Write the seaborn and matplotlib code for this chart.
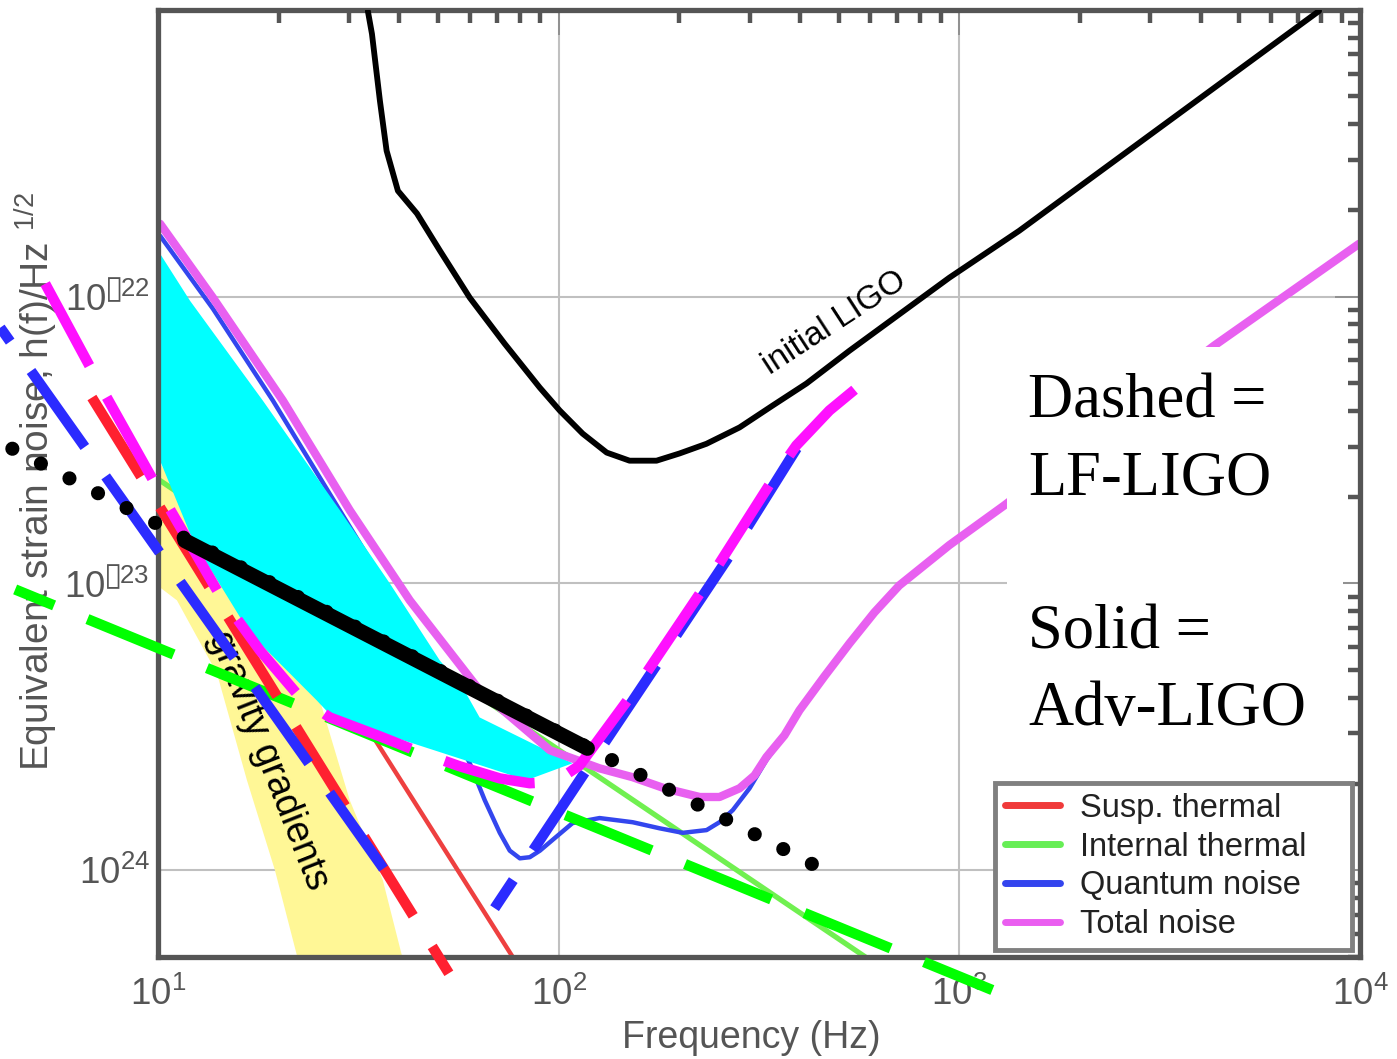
import numpy as np
import pandas as pd
import matplotlib
matplotlib.use("Agg")
import matplotlib.pyplot as plt
from matplotlib.lines import Line2D
from matplotlib.patches import Rectangle
from matplotlib.ticker import NullFormatter
import seaborn as sns

# Frequencies in Hz, strain noise in units of 1e-23 / sqrt(Hz)

# initial LIGO sensitivity
initial_f = [33.4, 34.2, 35.8, 37.2, 39.7, 44.3, 50.5, 60.0, 73.3, 89.7, 100.6, 114.8, 131.8,
             150.3, 175.5, 200.3, 233.9, 282.8, 341.8, 415.4, 531.8, 944.3, 1411, 7906]
initial_h = [99.2, 82.5, 48.2, 32.3, 23.4, 19.5, 14.5, 9.92, 6.86, 4.82, 4.01, 3.33, 2.86,
             2.68, 2.68, 2.84, 3.07, 3.50, 4.17, 4.98, 6.48, 11.65, 16.98, 99.2]

# Adv-LIGO (solid)
total_f = [10.12, 13.71, 20.5, 30.1, 42.5, 63.5, 95.1, 126.5, 153, 183.8, 225, 252, 282.8,
           308.2, 330, 366.1, 399, 460.6, 532, 613.8, 708, 944, 1294, 4325, 9954]
total_h = [17.96, 9.92, 4.34, 1.80, 0.873, 0.424, 0.262, 0.2266, 0.211, 0.193, 0.180, 0.180,
           0.193, 0.214, 0.248, 0.2955, 0.361, 0.4743, 0.618, 0.7925, 0.984, 1.36, 1.87,
           6.75, 15.3]
quantum_f = [10.12, 13.71, 19.36, 36.4, 47.6, 60.0, 65.4, 71.3, 75.5, 80.0, 84.7, 89.8, 97.7,
             108.3, 126.5, 153, 178.6, 204, 234, 252, 272, 299.5, 330, 366.1, 399, 460.6,
             532, 613.8, 708, 944, 1294, 4325, 9954]
quantum_h = [16.31, 9.08, 4.34, 1.02, 0.459, 0.236, 0.1754, 0.135, 0.117, 0.110, 0.111, 0.117,
             0.1293, 0.146, 0.152, 0.147, 0.140, 0.135, 0.138, 0.147, 0.162, 0.193, 0.242,
             0.2955, 0.361, 0.4743, 0.618, 0.7925, 0.984, 1.36, 1.87, 6.75, 15.3]
susp_f = [10.12, 35.8, 76.8]
susp_h = [4.45, 0.268, 0.0498]
internal_f = [10.12, 583]
internal_h = [2.285, 0.0498]

# LF-LIGO (dashed)
lf_total_f = [5.23, 7.17, 9.83, 14.28, 17.96, 22.6, 26.85, 35.8, 45.0, 56.6, 71.3, 84.7, 93.9,
              103.5, 112.8, 153, 234, 350, 392, 474, 580]
lf_total_h = [11.10, 4.90, 2.23, 0.908, 0.584, 0.401, 0.341, 0.293, 0.258, 0.2304, 0.209,
              0.201, 0.2026, 0.214, 0.232, 0.414, 1.0, 2.42, 3.03, 4.01, 5.06]
lf_susp_f = [6.84, 53.2]
lf_susp_h = [4.45, 0.0437]
lf_quantum_low_f = [4.04, 38.3]
lf_quantum_low_h = [7.80, 0.0923]
lf_quantum_high_f = [69.2, 126.5, 267, 394]
lf_quantum_high_h = [0.0737, 0.262, 1.25, 2.98]
lf_internal_f = [4.40, 1209]
lf_internal_h = [0.953, 0.0382]

# black power-law line
trend_f = [4.33, 440]
trend_h = [2.95, 0.1032]
trend_solid_f = [11.67, 118]
trend_solid_h = [1.41, 0.266]

# shaded regions
cyan_f = [10.12, 12.02, 18.27, 28.44, 37.9, 50.5, 57.6, 63.5, 108.3, 83.2, 27.3, 24.9,
          16.96, 12.23, 10.12]
cyan_h = [14.12, 9.68, 4.34, 1.80, 1.0, 0.539, 0.434, 0.341, 0.236, 0.206, 0.341, 0.391,
          0.670, 1.41, 2.68]
gg_f = [10.12, 16.96, 25.35, 30.1, 36.4, 41.3, 22.6, 19.58, 16.67, 14.03, 11.15, 10.12]
gg_h = [2.62, 0.873, 0.391, 0.1754, 0.0923, 0.046, 0.046, 0.1, 0.206, 0.486, 0.873, 0.968]

legend_labels = ["Susp. thermal", "Internal thermal", "Quantum noise", "Total noise"]
legend_colors = ["#f03a3a", "#66ee55", "#3344ee", "#ea5ef0"]

xtick_vals = [10, 100, 1000, 10000]
xtick_labels = ["$\\mathregular{10^{1}}$", "$\\mathregular{10^{2}}$",
                "$\\mathregular{10^{3}}$", "$\\mathregular{10^{4}}$"]
ytick_vals = [1e-24, 1e-23, 1e-22]
ytick_labels = ["$\\mathregular{10^{24}}$", "$\\mathregular{10^{\u25af23}}$",
                "$\\mathregular{10^{\u25af22}}$"]

sns.set_theme(style="white")
plt.rcParams["font.family"] = ["Liberation Sans", "DejaVu Sans"]
plt.rcParams["mathtext.fontset"] = "custom"
plt.rcParams["mathtext.rm"] = "Liberation Sans"
plt.rcParams["mathtext.it"] = "Liberation Sans:italic"
plt.rcParams["mathtext.bf"] = "Liberation Sans:bold"
plt.rcParams["mathtext.fallback"] = "stixsans"

fig = plt.figure(figsize=(13.97, 10.59), dpi=100)
ax = fig.add_axes([0.1131, 0.0963, 0.8604, 0.8943])
ax.set_xscale("log")
ax.set_yscale("log")


def curve(f, h, **kw):
    df = pd.DataFrame({"f": f, "h": np.array(h) * 1e-23})
    sns.lineplot(data=df, x="f", y="h", ax=ax, sort=False, estimator=None, legend=False, **kw)


DASH_LW = 7.5
# shaded areas
ax.fill(gg_f, np.array(gg_h) * 1e-23, color="#fff796", lw=0, zorder=1.5)
ax.fill(cyan_f, np.array(cyan_h) * 1e-23, color="#00ffff", lw=0, zorder=2.2)

# Adv-LIGO solid curves
curve(susp_f, susp_h, color="#ee4040", lw=3.2, zorder=1.8)
curve(internal_f, internal_h, color="#70f050", lw=3.8, zorder=1.8)
curve(quantum_f, quantum_h, color="#3346ee", lw=3.2, zorder=1.9)
curve(total_f, total_h, color="#e860f0", lw=6, zorder=2.4, solid_joinstyle="round")
curve(initial_f, initial_h, color="black", lw=4.2, zorder=2.6, solid_joinstyle="round")

# LF-LIGO dashed curves (drawn past the frame like the original overlay)
curve(lf_internal_f, lf_internal_h, color="#00ff00", lw=DASH_LW, zorder=3.0, clip_on=False,
      linestyle=(4.9, (8.94, 3.46)))
curve(lf_susp_f, lf_susp_h, color="#ff2030", lw=DASH_LW, zorder=3.1, clip_on=False,
      linestyle=(0, (8.94, 3.46)))
curve(lf_quantum_low_f, lf_quantum_low_h, color="#2b2bff", lw=DASH_LW, zorder=3.2,
      clip_on=False, linestyle=(7.3, (8.94, 3.46)))
curve(lf_quantum_high_f, lf_quantum_high_h, color="#2b2bff", lw=DASH_LW, zorder=3.2,
      clip_on=False, linestyle=(5.7, (8.94, 3.46)))
curve(lf_total_f, lf_total_h, color="#ff10ff", lw=DASH_LW, zorder=3.3, clip_on=False,
      linestyle=(0, (8.94, 3.46)))

# power-law trend: dotted with a thick solid middle part
curve(trend_f, trend_h, color="black", lw=10.2, zorder=3.5, clip_on=False,
      linestyle=(0, (0.001, 2.27)), dash_capstyle="round")
curve(trend_solid_f, trend_solid_h, color="black", lw=10.8, zorder=3.6,
      solid_capstyle="round")

ax.text(487.6, 8.12e-23, "initial LIGO", rotation=33, rotation_mode="anchor",
        ha="center", va="center", fontsize=24, color="black", zorder=2.7)
ax.text(18.8, 0.242e-23, "gravity gradients", rotation=-68.5, rotation_mode="anchor",
        ha="center", va="center", fontsize=27, color="black", zorder=2.7)

ax.set_xlim(10, 1e4)
ax.set_ylim(4.98e-25, 1e-21)
ax.set_xticks(xtick_vals)
ax.set_xticklabels(xtick_labels)
ax.set_yticks(ytick_vals)
ax.set_yticklabels(ytick_labels)
ax.xaxis.set_minor_formatter(NullFormatter())
ax.yaxis.set_minor_formatter(NullFormatter())
ax.tick_params(which="major", direction="in", length=18, width=1.2, color="#888888",
               top=True, right=True, labelsize=26.5, labelcolor="#555555")
ax.tick_params(which="minor", direction="in", length=9, width=3.2, color="#555555",
               top=True, right=True)
ax.tick_params(axis="x", which="major", pad=14)
ax.tick_params(axis="y", which="major", pad=6)
ax.grid(True, which="major", color="#c0c0c0", lw=1.5)
for s in ax.spines.values():
    s.set_color("#555555")
    s.set_linewidth(3.8)

ax.set_xlabel("Frequency (Hz)", fontsize=27, color="#555555")
ax.xaxis.set_label_coords(0.494, -0.0665)
ax.set_ylabel("Equivalent strain noise, h(f)/Hz $^{1/2}$", fontsize=28, color="#555555")
ax.yaxis.set_label_coords(-0.0815, 0.5016)

# white panel with the annotation
ax.add_patch(Rectangle((0.706, 0.187), 0.2795, 0.457, transform=ax.transAxes,
                       facecolor="white", edgecolor="none", zorder=6))
ax.text(0.7238, 0.245, "Dashed =\nLF-LIGO\n\nSolid =\nAdv-LIGO", transform=ax.transAxes,
        family="Liberation Serif", fontsize=45, color="black", va="baseline", ha="left",
        linespacing=1.43, zorder=7)

handles = [Line2D([], [], color=c, lw=5) for c in legend_colors]
leg = ax.legend(handles, legend_labels, loc="upper left",
                bbox_to_anchor=(995 / 1397, 1 - 947 / 1059, 357 / 1397, 164 / 1059),
                bbox_transform=fig.transFigure, mode="expand", borderaxespad=0,
                fontsize=23.5, frameon=True, fancybox=False, framealpha=1,
                handlelength=1.7, handletextpad=0.6, labelspacing=0.24, borderpad=0.3)
leg.get_frame().set_edgecolor("#808080")
leg.get_frame().set_linewidth(3.5)
leg.set_zorder(10)
for t in leg.get_texts():
    t.set_color("#222222")

fig.savefig("out.png", dpi=100)
